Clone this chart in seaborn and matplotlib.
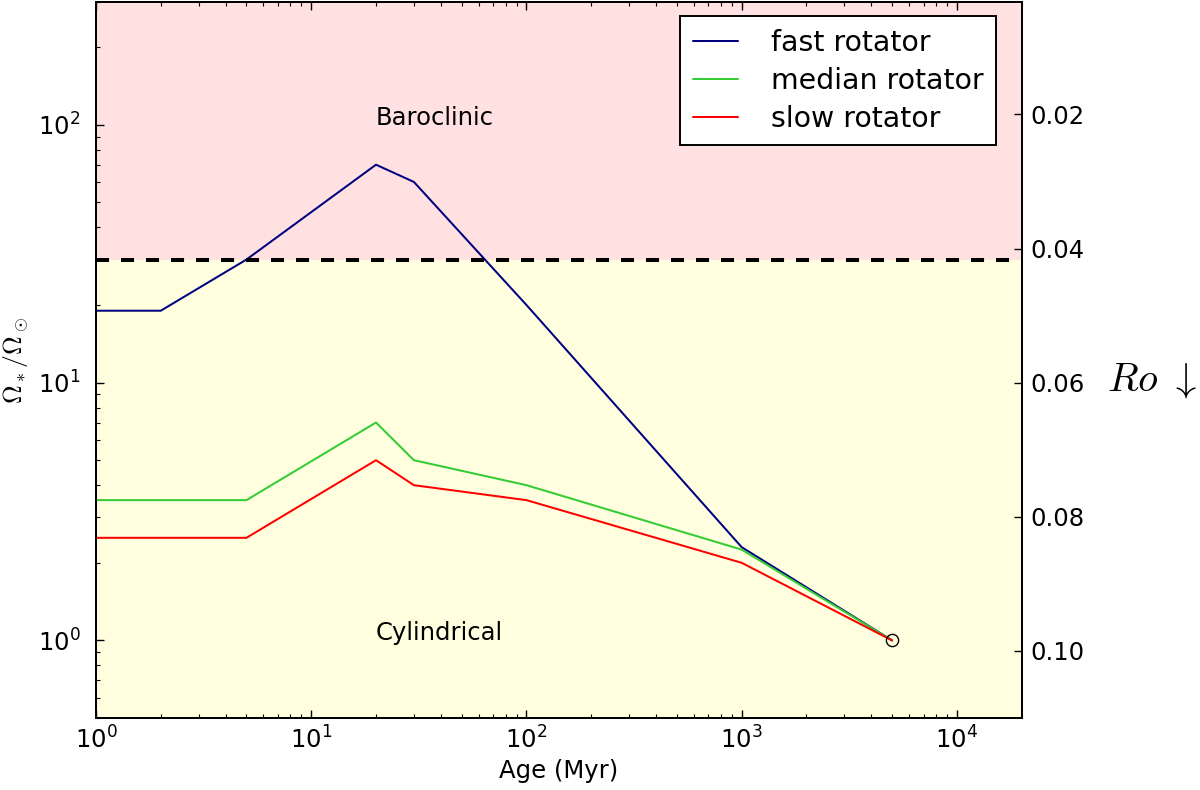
import matplotlib
matplotlib.use('Agg')
import matplotlib.pyplot as plt
import seaborn as sns
import pandas as pd
from matplotlib.ticker import FixedLocator, FormatStrFormatter, LogLocator, NullLocator

# ---- data ----
age_fast = [1, 2, 5, 20, 30, 100, 1000, 5000]
omega_fast = [19, 19, 30, 70, 60, 20, 2.3, 1]
age_median = [1, 5, 20, 30, 100, 1000, 5000]
omega_median = [3.5, 3.5, 7, 5, 4, 2.25, 1]
age_slow = [1, 5, 20, 30, 100, 1000, 5000]
omega_slow = [2.5, 2.5, 5, 4, 3.5, 2.0, 1]
series_labels = ['fast rotator', 'median rotator', 'slow rotator']
series_colors = ['#000080', '#33cc33', '#ff0000']
threshold = 30
sun_age = [5000]
sun_omega = [1]
ro_ticks = [0.02, 0.04, 0.06, 0.08, 0.10]
region_labels = ['Baroclinic', 'Cylindrical']
region_pos = [(20, 100), (20, 1)]

sns.set_style('ticks')
plt.rcParams['font.family'] = ['DejaVu Sans']
plt.rcParams['mathtext.fontset'] = 'cm'
plt.rcParams['lines.scale_dashes'] = False
for k in ['text.color', 'axes.labelcolor', 'xtick.color', 'ytick.color', 'axes.edgecolor']:
    plt.rcParams[k] = 'black'

FS = 17.5
fig = plt.figure(figsize=(12, 7.9), dpi=100)
ax = fig.add_axes([0.08, 0.0911, 0.7714, 0.9067])

ax.set_xscale('log')
ax.set_yscale('log')
ax.set_xlim(1, 2e4)
ax.set_ylim(0.5, 300)

ax.axhspan(threshold, 300, color='#ffe1e1', zorder=0, lw=0)
ax.axhspan(0.5, threshold, color='#ffffe0', zorder=0, lw=0)

lw = 1.45
for xs, ys, lab, col in zip([age_fast, age_median, age_slow],
                            [omega_fast, omega_median, omega_slow],
                            series_labels, series_colors):
    df = pd.DataFrame({'age': xs, 'omega': ys})
    sns.lineplot(data=df, x='age', y='omega', color=col, lw=lw, label=lab, ax=ax, zorder=3)

ax.axhline(threshold, color='k', lw=2.9, linestyle=(0, (9.4, 8.6)), zorder=4)
ax.plot(sun_age, sun_omega, 'o', mfc='none', mec='k', ms=8.8, mew=1.0, zorder=5)

for lab, (x, y) in zip(region_labels, region_pos):
    ax.text(x, y, lab, fontsize=FS, color='black')

ax.set_xlabel('Age (Myr)', fontsize=FS, labelpad=4, color='black')
ax.set_ylabel(r'$\Omega_*/\Omega_\odot$', fontsize=FS + 1, labelpad=5, color='black')

ax.xaxis.set_major_locator(LogLocator(base=10, numticks=10))
ax.tick_params(axis='both', which='major', direction='in', length=5.8, width=1.0,
               labelsize=FS, top=True, right=False, colors='black')
ax.tick_params(axis='both', which='minor', direction='in', length=2.9, width=0.8,
               top=True, right=False, colors='black')
ax.tick_params(axis='x', which='major', pad=6)
ax.tick_params(axis='y', which='major', pad=11)
for s in ax.spines.values():
    s.set_linewidth(1.4)
    s.set_color('black')

leg = ax.legend(loc='upper right', bbox_to_anchor=(0.9719, 0.9796), borderaxespad=0,
                fontsize=20.4, frameon=True, fancybox=False, edgecolor='k',
                framealpha=1, borderpad=0.44, handlelength=1.6, handletextpad=1.15,
                labelspacing=0.35)
leg.get_frame().set_linewidth(1.4)
for t in leg.get_texts():
    t.set_color('black')

ax2 = ax.twinx()
ax2.set_ylim(0.11, 0.0032)
ax2.yaxis.set_major_locator(FixedLocator(ro_ticks))
ax2.yaxis.set_minor_locator(NullLocator())
ax2.yaxis.set_major_formatter(FormatStrFormatter('%.2f'))
ax2.tick_params(axis='y', which='major', direction='in', length=5.8, width=1.0,
                labelsize=FS, pad=6.5, colors='black')
ax2.set_ylabel(r'$Ro\ \downarrow$', fontsize=29, rotation=0, ha='left', va='center', color='black')
ax2.yaxis.set_label_coords(1.092, 0.472)
for s in ax2.spines.values():
    s.set_linewidth(1.4)
    s.set_color('black')

fig.savefig('out.png', dpi=100)
